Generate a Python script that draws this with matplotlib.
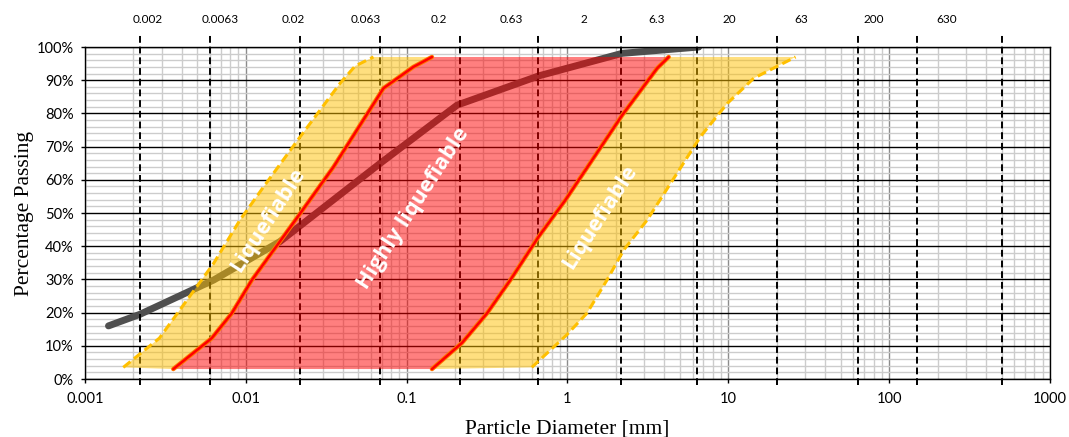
import matplotlib.pyplot as plt
import matplotlib.ticker as ticker
import numpy as np

plt.rcParams['font.family'] = ['Lato', 'DejaVu Sans']

# grading curve of the sample (grain size in mm, % passing)
sample_d = [0.0014, 0.0022, 0.0063, 0.0163, 0.0686, 0.206, 0.662, 2.19, 6.55]
sample_p = [16, 19.5, 29.8, 41.4, 65, 82.5, 91.3, 98.1, 100]

# outer limits -> liquefiable (dashed yellow)
liq_left_d = [0.00173, 0.0029, 0.0063, 0.0092, 0.0129, 0.0218, 0.0386, 0.0479, 0.0622]
liq_left_p = [3.5, 12.3, 34.8, 47.9, 57.9, 73, 89.1, 94.3, 97]
liq_right_d = [0.60, 0.99, 1.32, 1.76, 2.24, 3.13, 6.71, 9.85, 14.4, 26.2]
liq_right_p = [3.5, 13.3, 19.8, 29.8, 38.9, 47.9, 73, 83, 90.6, 97]

# inner limits -> highly liquefiable (red)
high_left_d = [0.00354, 0.00614, 0.00818, 0.0109, 0.016, 0.0218, 0.0351, 0.0718, 0.110, 0.1437]
high_left_p = [3, 12.3, 19.8, 29.8, 40.9, 49.9, 63.9, 87.6, 94, 97]
high_right_d = [0.1437, 0.221, 0.316, 0.441, 0.662, 0.97, 2.19, 3.61, 4.26]
high_right_p = [3, 10.9, 19.8, 29.8, 42.9, 53.9, 79.5, 93.6, 97]

# soil fraction boundaries (dashed black) and their labels on top
bound_d = [0.0022, 0.006, 0.0217, 0.0686, 0.216, 0.659, 2.16, 6.43, 20.2, 64.3, 150, 500]
top_labels = ['0.002', '0.0063', '0.02', '0.063', '0.2', '0.63',
              '2', '6.3', '20', '63', '200', '630']

decades = [0.001, 0.01, 0.1, 1, 10, 100, 1000]

fig = plt.figure(figsize=(10.69, 4.37), dpi=100)
ax = fig.add_axes([0.0795, 0.1327, 0.9027, 0.7597])

ax.set_xscale('log')
ax.set_xlim(0.001, 1000)
ax.set_ylim(0, 100)

ax.xaxis.set_major_locator(ticker.FixedLocator(decades))
minor = [m * d for d in decades[:-1] for m in range(2, 10)]
ax.xaxis.set_minor_locator(ticker.FixedLocator(minor))
ax.xaxis.set_major_formatter(ticker.FixedFormatter(['%g' % d for d in decades]))
ax.xaxis.set_minor_formatter(ticker.NullFormatter())
ax.yaxis.set_major_locator(ticker.MultipleLocator(10))
ax.yaxis.set_minor_locator(ticker.MultipleLocator(2))
ax.yaxis.set_major_formatter(ticker.FuncFormatter(lambda v, p: '%d%%' % v))

ax.grid(which='minor', axis='both', color='#cccccc', lw=1.0, zorder=0)
ax.grid(which='major', axis='x', color='#8c8c8c', lw=1.0, zorder=0)
ax.grid(which='major', axis='y', color='black', lw=1.0, zorder=0)
ax.set_axisbelow(True)

ax.tick_params(which='major', direction='out', length=3, width=1, labelsize=10.5, color='black')
ax.tick_params(axis='x', which='major', pad=6)
ax.tick_params(axis='y', which='major', pad=5)
ax.tick_params(which='minor', length=0)
for s in ax.spines.values():
    s.set_color('black')
    s.set_linewidth(1)

# sample curve (below the shaded zones)
ax.plot(sample_d, sample_p, color='#4f4f4f', lw=5, solid_capstyle='round', zorder=2)

# fraction boundaries
for d in bound_d:
    ax.plot([d, d], [-0.018, 1.04], transform=ax.get_xaxis_transform(),
            color='black', lw=1.4, ls=(0, (3.5, 2)), clip_on=False, zorder=2)

# shaded zones
ax.fill(liq_left_d + high_left_d[::-1], liq_left_p + high_left_p[::-1],
        color='#ffc000', alpha=0.5, lw=0, zorder=3)
ax.fill(high_right_d + liq_right_d[::-1], high_right_p + liq_right_p[::-1],
        color='#ffc000', alpha=0.5, lw=0, zorder=3)
ax.fill(high_left_d + high_right_d[::-1], high_left_p + high_right_p[::-1],
        color='#ff0000', alpha=0.5, lw=0, zorder=3)

# zone limits
for d, p in [(liq_left_d, liq_left_p), (liq_right_d, liq_right_p)]:
    ax.plot(d, p, color='#ffc000', lw=2.2, dashes=(3, 1.5), zorder=4)
for d, p in [(high_left_d, high_left_p), (high_right_d, high_right_p)]:
    ax.plot(d, p, color='#ff7a00', lw=3.2, solid_capstyle='round', zorder=4)
    ax.plot(d, p, color='#ff0000', lw=1.8, solid_capstyle='round', zorder=5)

txt = dict(color='white', fontsize=15.5, fontweight='bold', rotation=57,
           ha='center', va='center', rotation_mode='anchor', zorder=6,
           family=['Open Sans', 'DejaVu Sans'])
ax.text(0.0138, 47.9, 'Liquefiable', **txt)
ax.text(0.11, 51.5, 'Highly liquefiable', **txt)
ax.text(1.6, 48.8, 'Liquefiable', **txt)

ax.set_xlabel('Particle Diameter [mm]', family=['Liberation Serif'], fontsize=15.5, labelpad=10)
ax.set_ylabel('Percentage Passing', family=['Liberation Serif'], fontsize=15.5, labelpad=2)

# top category labels
top = ax.twiny()
top.set_xlim(-0.868, 12.42)
top.set_xticks(range(len(top_labels)))
top.set_xticklabels(top_labels)
top.tick_params(axis='x', length=0, pad=16, labelsize=8.5)
for s in top.spines.values():
    s.set_visible(False)

fig.savefig('out.png', dpi=100)
